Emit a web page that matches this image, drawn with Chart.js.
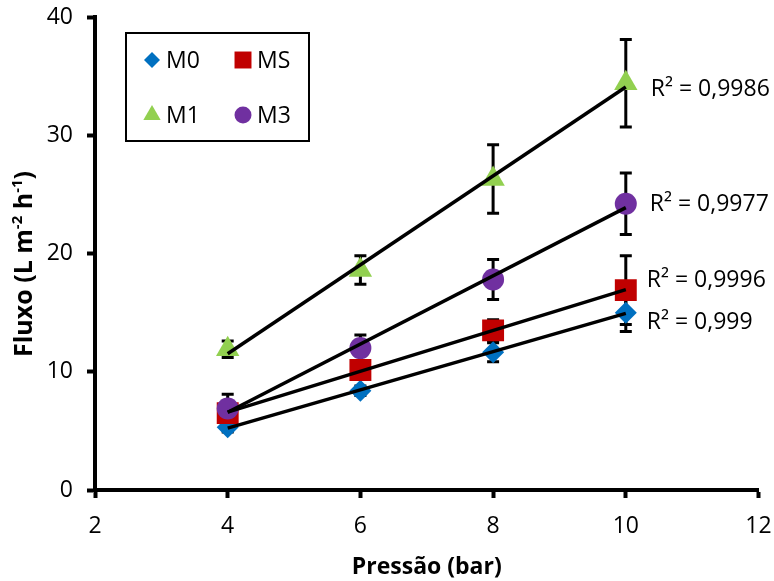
<!DOCTYPE html>
<html>
<head>
<meta charset="utf-8">
<script src="https://cdn.jsdelivr.net/npm/chart.js@4.4.0/dist/chart.umd.min.js"></script>
<style>
  body { margin: 0; background: #fff; }
  #wrap { width: 774px; height: 581px; }
</style>
</head>
<body>
<div id="wrap"><canvas id="fluxoChart" width="774" height="581"></canvas></div>
<script>
// dados
const pressoes = [4, 6, 8, 10];
const fluxoM0 = [5.3, 8.4, 11.65, 15.0];
const fluxoMS = [6.5, 10.15, 13.5, 16.9];
const fluxoM1 = [11.9, 18.6, 26.3, 34.4];
const fluxoM3 = [6.9, 12.0, 17.8, 24.2];
const erroM0 = [0.4, 0.4, 0.8, 1.6];
const erroMS = [0.5, 0.5, 0.9, 2.9];
const erroM1 = [0.7, 1.2, 2.9, 3.7];
const erroM3 = [1.2, 1.1, 1.7, 2.6];
const r2Textos = ['R² = 0,999', 'R² = 0,9996', 'R² = 0,9986', 'R² = 0,9977'];
const nomes = ['M0', 'MS', 'M1', 'M3'];
const xTicks = [2, 4, 6, 8, 10, 12];
const yTicks = [0, 10, 20, 30, 40];

const fonte = "'Open Sans', sans-serif";

function regressao(xs, ys) {
    const n = xs.length;
    const mx = xs.reduce((a, b) => a + b, 0) / n;
    const my = ys.reduce((a, b) => a + b, 0) / n;
    let sxy = 0, sxx = 0;
    for (let i = 0; i < n; i++) {
        sxy += (xs[i] - mx) * (ys[i] - my);
        sxx += (xs[i] - mx) * (xs[i] - mx);
    }
    const b = sxy / sxx;
    const a = my - b * mx;
    return [xs[0], xs[n - 1]].map(x => ({ x: x, y: a + b * x }));
}

function pontos(ys) {
    return pressoes.map((x, i) => ({ x: x, y: ys[i] }));
}

function linha(ys) {
    return {
        data: regressao(pressoes, ys),
        showLine: true,
        borderColor: '#000',
        borderWidth: 3.5,
        pointRadius: 0,
        order: 0
    };
}

// estilo das séries (ordem igual a nomes)
const estilos = [
    { cor: '#0070C0', forma: 'rectRot', raio: 11, raioLeg: 8, ordem: 4, dx: 21, dy: 10 },
    { cor: '#C00000', forma: 'rect', raio: 15.5, raioLeg: 12, ordem: 3, dx: 21, dy: -10 },
    { cor: '#92D050', forma: 'triangle', raio: 13.5, raioLeg: 10, ordem: 2, dx: 25, dy: 6 },
    { cor: '#7030A0', forma: 'circle', raio: 11, raioLeg: 8.5, ordem: 1, dx: 24, dy: 1 }
];
const series = [fluxoM0, fluxoMS, fluxoM1, fluxoM3];
const erros = [erroM0, erroMS, erroM1, erroM3];

const datasets = series.map(linha);
series.forEach((ys, i) => {
    const e = estilos[i];
    datasets.push({
        label: nomes[i],
        data: pontos(ys),
        erros: erros[i],
        r2: r2Textos[i],
        estilo: e,
        pointStyle: e.forma,
        pointRadius: e.raio,
        pointHoverRadius: e.raio,
        backgroundColor: e.cor,
        borderColor: e.cor,
        pointBorderWidth: 0,
        showLine: false,
        order: e.ordem
    });
});

const barrasErro = {
    id: 'barrasErro',
    beforeDatasetsDraw(chart) {
        const ctx = chart.ctx;
        const ys = chart.scales.y;
        ctx.save();
        ctx.strokeStyle = '#000';
        ctx.lineWidth = 3;
        chart.data.datasets.forEach((ds, i) => {
            if (!ds.erros) return;
            const meta = chart.getDatasetMeta(i);
            meta.data.forEach((p, j) => {
                const v = ds.data[j].y;
                const t = ys.getPixelForValue(v + ds.erros[j]);
                const b = ys.getPixelForValue(v - ds.erros[j]);
                ctx.beginPath();
                ctx.moveTo(p.x, t); ctx.lineTo(p.x, b);
                ctx.moveTo(p.x - 6, t); ctx.lineTo(p.x + 6, t);
                ctx.moveTo(p.x - 6, b); ctx.lineTo(p.x + 6, b);
                ctx.stroke();
            });
        });
        ctx.restore();
    }
};

const textos = {
    id: 'textos',
    afterDraw(chart) {
        const ctx = chart.ctx;
        const area = chart.chartArea;
        ctx.save();
        ctx.fillStyle = '#000';

        // R² junto ao último ponto
        ctx.font = '23px ' + fonte;
        ctx.textAlign = 'left';
        ctx.textBaseline = 'middle';
        chart.data.datasets.forEach((ds, i) => {
            if (!ds.r2) return;
            const meta = chart.getDatasetMeta(i);
            const p = meta.data[meta.data.length - 1];
            ctx.fillText(ds.r2, p.x + ds.estilo.dx, p.y + ds.estilo.dy);
        });

        // legenda
        ctx.lineWidth = 2;
        ctx.strokeStyle = '#000';
        ctx.strokeRect(126, 33, 183, 108);
        const pos = [[152, 60], [243, 60], [152, 115], [243, 115]];
        chart.data.datasets.filter(ds => ds.estilo).forEach((ds, k) => {
            const [lx, ly] = pos[k];
            ctx.fillStyle = ds.estilo.cor;
            Chart.helpers.drawPoint(ctx, {
                pointStyle: ds.estilo.forma,
                radius: ds.estilo.raioLeg,
                rotation: 0,
                borderWidth: 0
            }, lx, ly);
            ctx.fillStyle = '#000';
            ctx.fillText(ds.label, lx + 14, ly + 1);
        });

        // título eixo x
        ctx.font = 'bold 23px ' + fonte;
        ctx.textAlign = 'center';
        ctx.textBaseline = 'alphabetic';
        ctx.fillText('Pressão (bar)', (area.left + area.right) / 2, 574);

        // título eixo y com sobrescritos
        const partes = [
            ['Fluxo (L m', false], ['-2', true], [' h', false], ['-1', true], [')', false]
        ];
        const fN = 'bold 25px ' + fonte, fS = 'bold 15px ' + fonte;
        let total = 0;
        partes.forEach(([t, s]) => { ctx.font = s ? fS : fN; total += ctx.measureText(t).width; });
        ctx.translate(32, 264);
        ctx.rotate(-Math.PI / 2);
        ctx.textAlign = 'left';
        let x = -total / 2;
        partes.forEach(([t, s]) => {
            ctx.font = s ? fS : fN;
            ctx.fillText(t, x, s ? -10 : 0);
            x += ctx.measureText(t).width;
        });
        ctx.restore();
    }
};

const ctx = document.getElementById('fluxoChart').getContext('2d');
const fluxoChart = new Chart(ctx, {
    type: 'scatter',
    data: { datasets: datasets },
    options: {
        responsive: false,
        animation: false,
        layout: { padding: { top: 17, right: 12, left: 0, bottom: 0 } },
        plugins: {
            legend: { display: false },
            tooltip: { enabled: false }
        },
        scales: {
            x: {
                type: 'linear',
                min: xTicks[0],
                max: xTicks[xTicks.length - 1],
                ticks: {
                    stepSize: xTicks[1] - xTicks[0],
                    color: '#000',
                    font: { family: fonte, size: 23 },
                    padding: 15
                },
                grid: {
                    drawOnChartArea: false,
                    drawTicks: true,
                    tickLength: 8,
                    tickWidth: 4,
                    tickColor: '#000'
                },
                border: { color: '#000', width: 4 },
                afterFit(s) { s.height = 91; s.paddingLeft = 0; s.paddingRight = 0; }
            },
            y: {
                min: yTicks[0],
                max: yTicks[yTicks.length - 1],
                ticks: {
                    stepSize: yTicks[1] - yTicks[0],
                    color: '#000',
                    font: { family: fonte, size: 23 },
                    padding: 14
                },
                grid: {
                    drawOnChartArea: false,
                    drawTicks: true,
                    tickLength: 8,
                    tickWidth: 4,
                    tickColor: '#000'
                },
                border: { color: '#000', width: 4 },
                afterFit(s) { s.width = 95; s.paddingTop = 0; s.paddingBottom = 0; }
            }
        }
    },
    plugins: [barrasErro, textos]
});
</script>
</body>
</html>
